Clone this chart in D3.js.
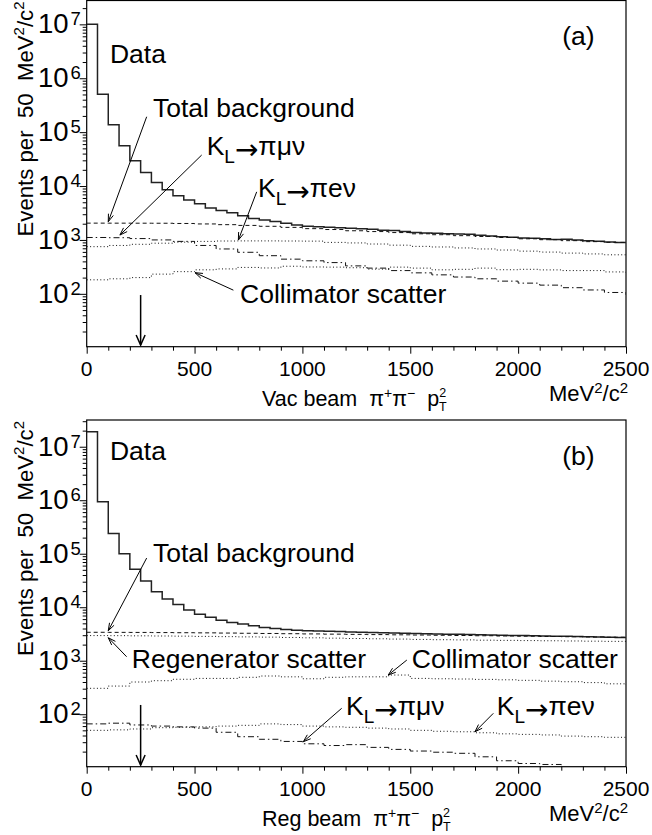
<!DOCTYPE html>
<html><head><meta charset="utf-8">
<script src="https://cdn.jsdelivr.net/npm/d3@7"></script>
<style>
body{margin:0;background:#fff}
svg{display:block}
text{font-family:"Liberation Sans",Arial,Helvetica,sans-serif;fill:#000;white-space:pre}
</style>
</head><body><svg id="c" width="652" height="835"></svg>
<script>
// ---------------- DATA ----------------
const xDomain = [0, 2500];
const xMajorTicks = [0, 500, 1000, 1500, 2000, 2500];
const xMinorTicks = d3.range(0, 2501, 100);
const yLabelExps = [2, 3, 4, 5, 6, 7];
const binWidth = 50;
const binStarts = d3.range(0, 2500, binWidth);
const gridX = d3.range(0, 2501, 100);

// Panel (a) vacuum beam
const vacData = [1.0e7, 5.07e5, 1.37e5, 5.6e4, 2.94e4, 1.78e4, 1.16e4, 8.5e3, 6.6e3, 5.5e3,
  4.7e3, 3.9e3, 3.5e3, 3.2e3, 2.8e3, 2.5e3, 2.35e3, 2.2e3, 2.05e3, 1.9e3,
  1800, 1750, 1720, 1690, 1650, 1620, 1580, 1520, 1490, 1440,
  1380, 1340, 1330, 1300, 1290, 1270, 1220, 1180, 1150, 1120,
  1090, 1080, 1050, 1020, 1030, 1000, 970, 950, 920, 895];
const vacTotalBkg = [2050, 2048, 2045, 2040, 2020, 1980, 1920, 1860, 1790, 1710, 1620, 1560, 1480, 1430, 1370,
  1300, 1250, 1200, 1160, 1110, 1050, 1010, 970, 930, 900, 870];
const vacKpimunu = [1110, 1100, 1060, 1000, 940, 790, 680, 590, 510, 440, 410, 380, 330, 300, 270,
  245, 225, 205, 190, 172, 158, 145, 130, 118, 106, 96];
const vacKpienu = [750, 790, 830, 870, 910, 940, 955, 960, 960, 955, 950, 900, 880, 840, 800,
  760, 740, 710, 680, 650, 620, 595, 570, 550, 530, 507];
const vacCollim = [182, 190, 200, 232, 258, 279, 290, 309, 302, 325, 315, 313, 305, 287, 313,
  300, 279, 285, 300, 280, 285, 278, 270, 270, 255, 248];

// Panel (b) regenerator beam
const regData = [1.9e7, 9.4e5, 2.4e5, 1.0e5, 5.1e4, 3.1e4, 1.95e4, 1.42e4, 1.13e4, 8.9e3,
  7.4e3, 6.5e3, 5.7e3, 5.2e3, 4.86e3, 4.5e3, 4.2e3, 4.0e3, 3.85e3, 3.7e3,
  3650, 3600, 3550, 3500, 3460, 3420, 3380, 3340, 3300, 3260,
  3230, 3200, 3170, 3140, 3110, 3080, 3050, 3020, 3000, 2970,
  2950, 2920, 2900, 2880, 2860, 2830, 2800, 2780, 2750, 2730];
const regTotalBkg = [3400, 3390, 3380, 3360, 3340, 3320, 3290, 3260, 3230, 3200, 3170, 3140, 3110, 3080, 3050,
  3020, 2990, 2960, 2930, 2900, 2870, 2840, 2810, 2780, 2750, 2720];
const regRegen = [2950, 2940, 2920, 2900, 2880, 2850, 2820, 2790, 2760, 2720, 2680, 2640, 2600, 2570, 2540,
  2500, 2470, 2450, 2420, 2400, 2380, 2360, 2340, 2320, 2300, 2280];
const regCollim = [305, 336, 400, 423, 450, 467, 467, 490, 518, 500, 460, 490, 500, 500, 540,
  467, 460, 455, 448, 440, 430, 415, 405, 390, 370, 351];
const regKpimunu = [66, 68, 63, 60, 58, 55, 46, 38, 34, 31, 28, 26, 27, 24, 22,
  20.5, 19.5, 18.6, 16, 13.5, 12, 11.5, 9.5];
const regKpienu = [50, 51, 53, 56, 57, 58, 60, 62, 66, 64, 60, 58, 57, 55, 53,
  50, 48, 47, 45, 43, 42, 41, 39, 38, 37, 36];

const cutValue = 250;

// ---------------- LAYOUT ----------------
const X0 = 86.7, X1 = 626;
const LABEL_FS = 26.5;
const svg = d3.select('#c');
const x = d3.scaleLinear().domain(xDomain).range([X0, X1]);

const STYLES = {
  dashed: '4,3',
  dotted: '1,2.4',
  dashdot: '6,3,1.5,3'
};

function arrow(g, x1, y1, x2, y2, len, halfAng, sw) {
  const a = Math.atan2(y2 - y1, x2 - x1);
  g.append('line').attr('x1', x1).attr('y1', y1).attr('x2', x2).attr('y2', y2)
    .attr('stroke', '#000').attr('stroke-width', sw);
  const p1 = [x2 - len * Math.cos(a - halfAng), y2 - len * Math.sin(a - halfAng)];
  const p2 = [x2 - len * Math.cos(a + halfAng), y2 - len * Math.sin(a + halfAng)];
  g.append('path').attr('d', `M${p1}L${x2},${y2}L${p2}`)
    .attr('fill', 'none').attr('stroke', '#000').attr('stroke-width', sw);
}

function klabel(g, px, py, tail) {
  const t = g.append('text').attr('x', px).attr('y', py).attr('font-size', LABEL_FS);
  t.append('tspan').text('K');
  t.append('tspan').attr('font-size', 19).attr('dy', 8).text('L');
  t.append('tspan').attr('font-family', 'DejaVu Sans').attr('font-size', 28).attr('dy', -4).text('→');
  t.append('tspan').attr('dy', -4).text('π' + tail);
}

function drawPanel(cfg, id) {
  const g = svg.append('g');
  const y = d3.scaleLog().domain(cfg.yDomain).range([cfg.bottom, cfg.top]);

  g.append('clipPath').attr('id', 'clip' + id).append('rect')
    .attr('x', X0).attr('y', cfg.top).attr('width', X1 - X0).attr('height', cfg.bottom - cfg.top);

  // x ticks (outward)
  g.append('g').attr('transform', `translate(0,${cfg.bottom})`)
    .call(d3.axisBottom(x).tickValues(xMinorTicks.filter(v => v % 500 !== 0)).tickSize(4).tickSizeOuter(0).tickFormat(''))
    .call(s => s.select('.domain').remove())
    .call(s => s.selectAll('line').attr('stroke', '#000'));
  g.append('g').attr('transform', `translate(0,${cfg.bottom})`)
    .call(d3.axisBottom(x).tickValues(xMajorTicks).tickSize(7).tickSizeOuter(0).tickFormat(''))
    .call(s => s.select('.domain').remove())
    .call(s => s.selectAll('line').attr('stroke', '#000'));
  g.selectAll('.xl').data(xMajorTicks).enter().append('text')
    .attr('x', d => x(d)).attr('y', cfg.bottom + 29.7).attr('text-anchor', 'middle')
    .attr('font-size', 21).text(d => d);

  // y ticks (outward, log)
  const yMinor = [], yMajor = [];
  for (let n = 1; n <= 7; n++) {
    for (let m = 1; m <= 9; m++) {
      const v = m * Math.pow(10, n);
      if (v >= cfg.yDomain[0] && v <= cfg.yDomain[1]) (m === 1 ? yMajor : yMinor).push(v);
    }
  }
  g.append('g').attr('transform', `translate(${X0},0)`)
    .call(d3.axisLeft(y).tickValues(yMinor).tickSize(4).tickSizeOuter(0).tickFormat(''))
    .call(s => s.select('.domain').remove())
    .call(s => s.selectAll('line').attr('stroke', '#000'));
  g.append('g').attr('transform', `translate(${X0},0)`)
    .call(d3.axisLeft(y).tickValues(yMajor).tickSize(7).tickSizeOuter(0).tickFormat(''))
    .call(s => s.select('.domain').remove())
    .call(s => s.selectAll('line').attr('stroke', '#000'));
  yLabelExps.forEach(e => {
    const v = Math.pow(10, e);
    g.append('text').attr('x', 68.5).attr('y', y(v) + 9).attr('text-anchor', 'end')
      .attr('font-size', 27.5).text('10');
    g.append('text').attr('x', 70.5).attr('y', y(v) + 1).attr('font-size', 18.5).text(e);
  });

  // frame
  g.append('rect').attr('x', X0).attr('y', cfg.top).attr('width', X1 - X0).attr('height', cfg.bottom - cfg.top)
    .attr('fill', 'none').attr('stroke', '#000').attr('stroke-width', 1.2);

  // axis titles
  const yt = g.append('text').attr('transform', `translate(33,${cfg.top + 1}) rotate(-90)`)
    .attr('text-anchor', 'end').attr('font-size', 22.2);
  yt.append('tspan').text('Events per  50  MeV');
  yt.append('tspan').attr('font-size', 15).attr('dy', -9).text('2');
  yt.append('tspan').attr('dy', 9).text('/c');
  yt.append('tspan').attr('font-size', 15).attr('dy', -9).text('2');

  const xt = g.append('text').attr('x', 262).attr('y', cfg.bottom + 59).attr('font-size', 21.5);
  xt.append('tspan').text(cfg.beam + ' beam  π');
  xt.append('tspan').attr('font-size', 14).attr('dy', -8).text('+');
  xt.append('tspan').attr('dy', 8).text('π');
  xt.append('tspan').attr('font-size', 14).attr('dy', -8).text('−');
  xt.append('tspan').attr('dy', 8).text('  p');
  xt.append('tspan').attr('font-size', 12.5).attr('dy', -9).text('2');
  xt.append('tspan').attr('font-size', 12.5).attr('dx', -7).attr('dy', 14).text('T');

  const ut = g.append('text').attr('x', 628).attr('y', cfg.bottom + 54.5).attr('text-anchor', 'end').attr('font-size', 22);
  ut.append('tspan').text('MeV');
  ut.append('tspan').attr('font-size', 15).attr('dy', -8).text('2');
  ut.append('tspan').attr('dy', 8).text('/c');
  ut.append('tspan').attr('font-size', 15).attr('dy', -8).text('2');

  // plot content
  const pg = g.append('g').attr('clip-path', `url(#clip${id})`);
  // histogram (step)
  const histPts = binStarts.map((b, i) => [b, cfg.data[i]]);
  histPts.push([xDomain[1], cfg.data[cfg.data.length - 1]]);
  pg.append('path').attr('d', d3.line().x(d => x(d[0])).y(d => y(d[1])).curve(d3.curveStepAfter)(histPts))
    .attr('fill', 'none').attr('stroke', '#222').attr('stroke-width', 1.5);

  cfg.curves.forEach(c => {
    const pts = c.values.map((v, i) => [gridX[i], v]);
    pg.append('path').attr('d', d3.line().x(d => x(d[0])).y(d => y(d[1])).curve(d3.curveStepAfter)(pts))
      .attr('fill', 'none').attr('stroke', '#111').attr('stroke-width', 1)
      .attr('stroke-dasharray', STYLES[c.style]);
  });

  // cut arrow
  arrow(g, x(cutValue), y(cfg.cutArrow[0]), x(cutValue), y(cfg.cutArrow[1]), 11, 0.42, 1.5);

  // labels
  cfg.labels.forEach(l => {
    if (l.k) klabel(g, x(l.x), y(l.y), l.k);
    else g.append('text').attr('x', x(l.x)).attr('y', y(l.y)).attr('font-size', LABEL_FS).text(l.text);
  });
  cfg.arrows.forEach(a => {
    arrow(g, x(a[0]), y(a[1]), x(a[2]), y(a[3]), 8, 0.33, 1);
  });
}

drawPanel({
  top: 0.5, bottom: 346.7, yDomain: [10.45, 2.77e7], beam: 'Vac',
  data: vacData,
  curves: [
    { values: vacTotalBkg, style: 'dashed' },
    { values: vacKpimunu, style: 'dashdot' },
    { values: vacKpienu, style: 'dotted' },
    { values: vacCollim, style: 'dotted' }
  ],
  cutArrow: [95, 11.2],
  labels: [
    { x: 108, y: 1.9e6, text: 'Data' },
    { x: 2204, y: 4.1e6, text: '(a)' },
    { x: 307, y: 1.9e5, text: 'Total background' },
    { x: 556, y: 3.76e4, k: 'μν' },
    { x: 794, y: 6.3e3, k: 'eν' },
    { x: 711, y: 67, text: 'Collimator scatter' }
  ],
  arrows: [
    [278, 1.93e5, 100, 2180],
    [533, 3.76e4, 154, 1233],
    [788, 7.8e3, 703, 995],
    [680, 117, 502, 247]
  ]
}, 'a');

drawPanel({
  top: 420, bottom: 766.7, yDomain: [10.45, 3.16e7], beam: 'Reg',
  data: regData,
  curves: [
    { values: regTotalBkg, style: 'dashed' },
    { values: regRegen, style: 'dotted' },
    { values: regCollim, style: 'dotted' },
    { values: regKpimunu, style: 'dashdot' },
    { values: regKpienu, style: 'dotted' }
  ],
  cutArrow: [149, 11.2],
  labels: [
    { x: 108, y: 5.6e6, text: 'Data' },
    { x: 2204, y: 4.5e6, text: '(b)' },
    { x: 307, y: 7.1e4, text: 'Total background' },
    { x: 209, y: 721, text: 'Regenerator scatter' },
    { x: 1507, y: 731, text: 'Collimator scatter' },
    { x: 1202, y: 96.6, k: 'μν' },
    { x: 1901, y: 96.6, k: 'eν' }
  ],
  arrows: [
    [278, 8.3e4, 100, 3640],
    [185, 1189, 100, 2690],
    [1484, 1030, 1398, 541],
    [1182, 129, 1004, 30.6],
    [1885, 104, 1800, 47]
  ]
}, 'b');
</script></body></html>
